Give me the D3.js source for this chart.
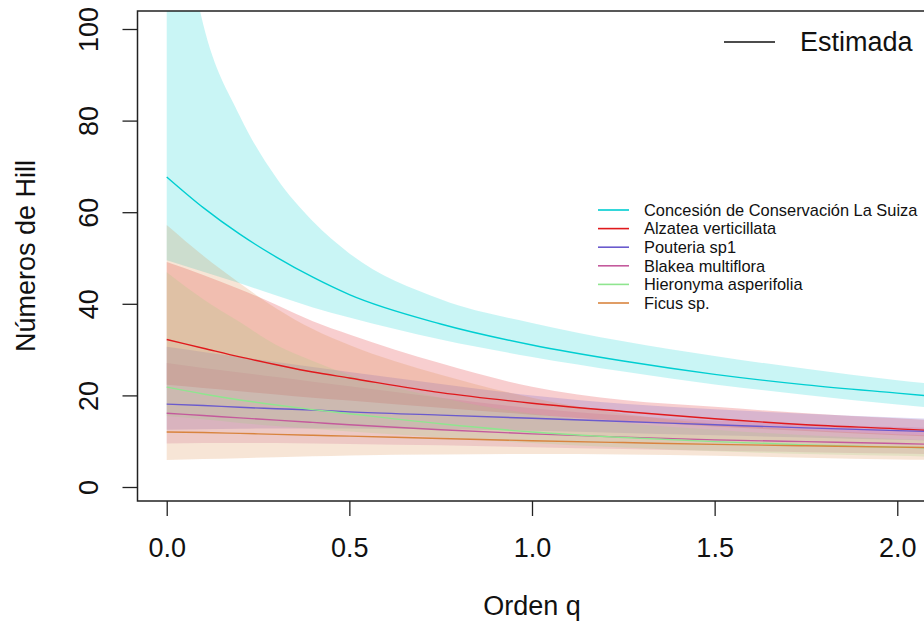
<!DOCTYPE html>
<html>
<head>
<meta charset="utf-8">
<script src="https://cdn.jsdelivr.net/npm/d3@7"></script>
<style>
  body { margin: 0; background: #fff; }
  text { font-family: "Liberation Sans", Arial, sans-serif; fill: #111; }
</style>
</head>
<body>
<script>
// orders q where the curves were read (the curves run on past the right edge)
var qValues = [0, 0.1, 0.2, 0.3, 0.4, 0.5, 0.75, 1, 1.25, 1.5, 1.75, 2, 2.1];

var seriesNames = ["Concesión de Conservación La Suiza", "Alzatea verticillata", "Pouteria sp1",
                   "Blakea multiflora", "Hieronyma asperifolia", "Ficus sp."];
var seriesColors = ["#00CED1", "#E0191C", "#6A5ACD", "#C45A9C", "#8FE58F", "#D8843E"];

// estimated Hill numbers, lower and upper bounds
var estSuiza = [67.7, 61.0, 55.2, 50.2, 45.8, 42.0, 35.6, 31.0, 27.5, 24.6, 22.3, 20.5, 19.8];
var loSuiza  = [49.5, 47.0, 44.5, 41.8, 39.2, 37.0, 32.2, 28.4, 25.2, 22.4, 20.1, 18.0, 17.3];
var hiSuiza  = [145, 101, 81.0, 67.5, 58.0, 51.0, 41.0, 35.8, 31.8, 28.6, 25.8, 23.3, 22.5];

var estAlzatea = [32.2, 30.3, 28.4, 26.7, 25.1, 23.8, 20.6, 18.3, 16.5, 14.9, 13.6, 12.7, 12.3];
var loAlzatea  = [22.3, 21.6, 20.9, 20.2, 19.5, 18.9, 17.3, 15.8, 14.4, 13.2, 12.2, 11.3, 11.0];
var hiAlzatea  = [49.1, 46.3, 43.2, 39.8, 36.2, 33.3, 27.0, 21.9, 19.0, 17.5, 16.1, 15.0, 14.6];

var estPouteria = [18.1, 17.8, 17.4, 17.1, 16.8, 16.4, 15.7, 15.0, 14.3, 13.6, 12.9, 12.3, 12.1];
var loPouteria  = [12.5, 12.6, 12.7, 12.8, 12.8, 12.8, 12.6, 12.3, 11.8, 11.3, 10.8, 10.3, 10.1];
var hiPouteria  = [30.6, 29.5, 28.4, 27.3, 26.2, 25.1, 22.5, 20.0, 18.2, 17.0, 16.0, 15.2, 14.9];

var estBlakea = [16.1, 15.6, 15.1, 14.6, 14.1, 13.6, 12.5, 11.6, 10.9, 10.3, 9.9, 9.5, 9.3];
var loBlakea  = [9.5, 9.6, 9.6, 9.6, 9.5, 9.4, 9.1, 8.7, 8.3, 7.9, 7.6, 7.3, 7.2];
var hiBlakea  = [27.1, 26.0, 25.0, 24.0, 23.0, 22.0, 19.5, 17.2, 15.6, 14.5, 13.7, 13.1, 12.9];

var estHieronyma = [21.8, 20.3, 19.0, 17.9, 16.9, 16.0, 13.8, 12.0, 10.8, 9.9, 9.2, 8.7, 8.5];
var loHieronyma  = [15.5, 14.8, 14.0, 13.3, 12.7, 12.1, 10.8, 9.6, 8.6, 7.8, 7.2, 6.8, 6.6];
var hiHieronyma  = [46.9, 41.0, 36.0, 31.0, 27.5, 24.5, 19.5, 16.0, 14.0, 12.5, 11.3, 10.5, 10.2];

var estFicus = [12.0, 11.9, 11.7, 11.5, 11.3, 11.1, 10.6, 10.1, 9.7, 9.3, 9.0, 8.7, 8.6];
var loFicus  = [5.9, 6.1, 6.3, 6.5, 6.7, 6.9, 7.1, 7.2, 7.1, 6.8, 6.4, 6.0, 5.9];
var hiFicus  = [57.2, 50.5, 44.5, 39.0, 34.5, 31.0, 24.5, 19.5, 16.0, 13.8, 12.5, 11.5, 11.2];

var xTicks = [0, 0.5, 1, 1.5, 2];
var yTicks = [0, 20, 40, 60, 80, 100];

var estAll = [estSuiza, estAlzatea, estPouteria, estBlakea, estHieronyma, estFicus];
var loAll = [loSuiza, loAlzatea, loPouteria, loBlakea, loHieronyma, loFicus];
var hiAll = [hiSuiza, hiAlzatea, hiPouteria, hiBlakea, hiHieronyma, hiFicus];

// svg area
var svgWidth = 924;
var svgHeight = 627;

// plot box (the right edge runs just past the picture)
var box = { left: 137.5, right: 926.5, top: 11, bottom: 501 };

var svg = d3.select("body")
  .append("svg")
  .attr("width", svgWidth)
  .attr("height", svgHeight);

var xScale = d3.scaleLinear()
  .domain([-0.08, 2.08])
  .range([box.left, box.right]);

var yScale = d3.scaleLinear()
  .domain([0, 100])
  .range([487, 29]);

svg.append("clipPath")
  .attr("id", "plotclip")
  .append("rect")
  .attr("x", box.left)
  .attr("y", box.top)
  .attr("width", box.right - box.left)
  .attr("height", box.bottom - box.top);

var plot = svg.append("g").attr("clip-path", "url(#plotclip)");

// build rows for each series
var seriesData = seriesNames.map(function(name, i) {
  return qValues.map(function(q, j) {
    return { q: q, est: estAll[i][j], lo: loAll[i][j], hi: hiAll[i][j] };
  });
});

var band = d3.area()
  .x(d => xScale(d.q))
  .y0(d => yScale(d.lo))
  .y1(d => yScale(d.hi))
  .curve(d3.curveMonotoneX);

var line = d3.line()
  .x(d => xScale(d.q))
  .y(d => yScale(d.est))
  .curve(d3.curveMonotoneX);

// confidence bands first, then the lines
plot.selectAll(".band")
  .data(seriesData)
  .enter().append("path")
  .attr("class", "band")
  .attr("d", band)
  .style("fill", (d, i) => seriesColors[i])
  .style("fill-opacity", 0.21)
  .style("stroke", "none");

plot.selectAll(".est")
  .data(seriesData)
  .enter().append("path")
  .attr("class", "est")
  .attr("d", line)
  .style("fill", "none")
  .style("stroke", (d, i) => seriesColors[i])
  .style("stroke-width", 1.4);

// axes
var bottomAxis = d3.axisBottom(xScale)
  .tickValues(xTicks)
  .tickSize(15)
  .tickFormat(d3.format(".1f"));

var leftAxis = d3.axisLeft(yScale)
  .tickValues(yTicks)
  .tickSize(15);

var xAxisG = svg.append("g")
  .attr("transform", `translate(0, ${box.bottom})`)
  .call(bottomAxis);
xAxisG.select(".domain").remove();
xAxisG.selectAll("line").attr("stroke", "#222").attr("stroke-width", 1.3);
xAxisG.selectAll("text")
  .attr("y", 0)
  .attr("dy", 0)
  .attr("transform", "translate(0, 56)")
  .style("font-size", "27px")
  .style("font-family", "'Liberation Sans', Arial, sans-serif")
  .attr("fill", "#111");

var yAxisG = svg.append("g")
  .attr("transform", `translate(${box.left}, 0)`)
  .call(leftAxis);
yAxisG.select(".domain").remove();
yAxisG.selectAll("line").attr("stroke", "#222").attr("stroke-width", 1.3);
yAxisG.selectAll("text")
  .attr("x", 0)
  .attr("y", 0)
  .attr("dy", 0)
  .attr("text-anchor", "middle")
  .attr("transform", "translate(-40, 0) rotate(-90)")
  .style("font-size", "27px")
  .style("font-family", "'Liberation Sans', Arial, sans-serif")
  .attr("fill", "#111");

// box round the plot
svg.append("rect")
  .attr("x", box.left)
  .attr("y", box.top)
  .attr("width", box.right - box.left)
  .attr("height", box.bottom - box.top)
  .style("fill", "none")
  .style("stroke", "#222")
  .style("stroke-width", 1.5);

// axis titles
svg.append("text")
  .attr("x", (box.left + box.right) / 2)
  .attr("y", 615)
  .attr("text-anchor", "middle")
  .style("font-size", "27px")
  .text("Orden q");

svg.append("text")
  .attr("transform", `translate(35, ${(box.top + box.bottom) / 2}) rotate(-90)`)
  .attr("text-anchor", "middle")
  .style("font-size", "27px")
  .text("Números de Hill");

// legend: line type
svg.append("line")
  .attr("x1", 724).attr("x2", 775)
  .attr("y1", 42).attr("y2", 42)
  .style("stroke", "#111")
  .style("stroke-width", 1.5);
svg.append("text")
  .attr("x", 800)
  .attr("y", 42)
  .attr("dy", "0.35em")
  .style("font-size", "27px")
  .text("Estimada");

// legend: sites and species
var legend = svg.append("g").attr("transform", "translate(598, 210)");
var rows = legend.selectAll(".row")
  .data(seriesNames)
  .enter().append("g")
  .attr("class", "row")
  .attr("transform", (d, i) => `translate(0, ${i * 18.6})`);
rows.append("line")
  .attr("x1", 0).attr("x2", 31)
  .attr("y1", 0).attr("y2", 0)
  .style("stroke", (d, i) => seriesColors[i])
  .style("stroke-width", 1.6);
rows.append("text")
  .attr("x", 46)
  .attr("y", 0)
  .attr("dy", "0.35em")
  .style("font-size", "16.4px")
  .text(d => d);
</script>
</body>
</html>
